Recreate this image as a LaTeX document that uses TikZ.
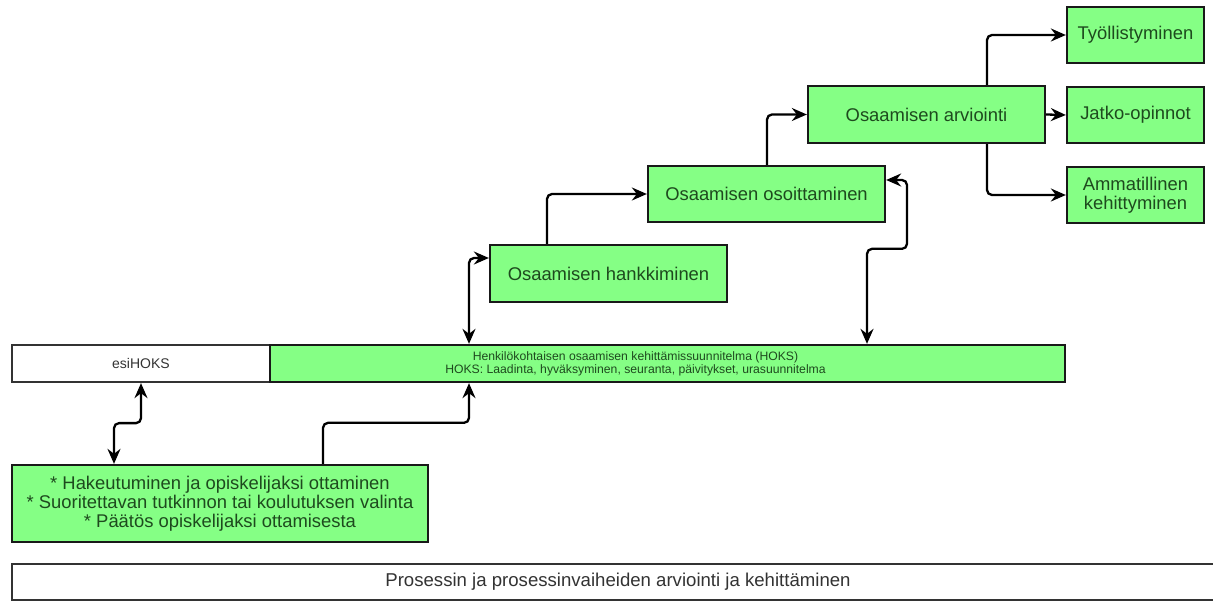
\documentclass[tikz,border=0pt]{standalone}
\usepackage{fontspec}
\setmainfont{Liberation Sans}
\usetikzlibrary{shapes.geometric, arrows.meta, positioning}
\definecolor{hoksgreen}{RGB}{133,255,133}
\definecolor{hokstext}{RGB}{30,74,30}
\definecolor{greytext}{RGB}{51,51,51}
\tikzstyle{greenbox} = [rectangle, minimum width=237pt, minimum height=57pt, text centered, align=center, draw=black!90, line width=2.3pt, fill=hoksgreen, text=hokstext, font=\fontsize{18.4}{19}\selectfont]
\tikzstyle{smallbox} = [greenbox, minimum width=137pt, minimum height=56pt]
\tikzstyle{whitebox} = [rectangle, draw=black!80, line width=2.3pt, fill=white, text=greytext]
\tikzstyle{arrow} = [line width=2.3pt, rounded corners=5pt, -{Stealth[length=15pt,width=13pt,inset=5pt]}]
\tikzstyle{dblarrow} = [line width=2.3pt, rounded corners=5pt, {Stealth[length=15pt,width=13pt,inset=5pt]}-{Stealth[length=15pt,width=13pt,inset=5pt]}]

\begin{document}
\begin{tikzpicture}[x=1pt, y=-1pt, node distance=80pt]
    \useasboundingbox (0,0) rectangle (1213,601);
    \node (esi) [whitebox, minimum width=258pt, minimum height=37pt, font=\fontsize{14}{15}\selectfont] at (141,363.5) {esiHOKS};
    \node (hoks) [greenbox, minimum width=795pt, minimum height=37pt, label={[xshift=-32pt, align=center, text=hokstext, font=\fontsize{12.2}{13}\selectfont]center:Henkilökohtaisen osaamisen kehittämissuunnitelma (HOKS)\\HOKS: Laadinta, hyväksyminen, seuranta, päivitykset, urasuunnitelma}] at (667.5,363.5) {};
    \node (haku) [greenbox, minimum width=416pt, minimum height=77pt] at (220,503.5) {* Hakeutuminen ja opiskelijaksi ottaminen\\* Suoritettavan tutkinnon tai koulutuksen valinta\\* Päätös opiskelijaksi ottamisesta};
    \node (arvtila) [whitebox, minimum width=1212pt, minimum height=36pt, font=\fontsize{18.6}{19}\selectfont] at (618,582) {Prosessin ja prosessinvaiheiden arviointi ja kehittäminen};
    \node (hank) [greenbox] at (608.5,273.5) {Osaamisen hankkiminen};
    \node (osoi) [greenbox, minimum height=56pt] at (766.5,194) {Osaamisen osoittaminen};
    \node (arvi) [greenbox] at (926.5,114.5) {Osaamisen arviointi};
    \node (tyo) [smallbox] at (1135.5,35) {Työllistyminen};
    \node (jatko) [smallbox, below of=tyo] {Jatko-opinnot};
    \node (amm) [smallbox, below of=jatko] {Ammatillinen\\kehittyminen};
    \draw [dblarrow] (esi.south) -- ++(0,40) -| ([xshift=-106pt]haku.north);
    \draw [arrow] ([xshift=103pt]haku.north) -- ++(0,-41) -| ([xshift=-198.5pt]hoks.south);
    \draw [dblarrow] ([xshift=-198.5pt]hoks.north) |- ([yshift=15.5pt]hank.west);
    \draw [arrow] ([xshift=-61.5pt]hank.north) |- (osoi.west);
    \draw [arrow] ([xshift=0.5pt]osoi.north) |- (arvi.west);
    \draw [arrow] ([xshift=60.5pt]arvi.north) |- (tyo.west);
    \draw [arrow] (arvi.east) -- (jatko.west);
    \draw [arrow] ([xshift=60.5pt]arvi.south) |- (amm.west);
    \draw [dblarrow] ([xshift=199.5pt]hoks.north) -- ++(0,-95) -- ++(40,0) |- ([yshift=14pt]osoi.east);
\end{tikzpicture}
\end{document}
